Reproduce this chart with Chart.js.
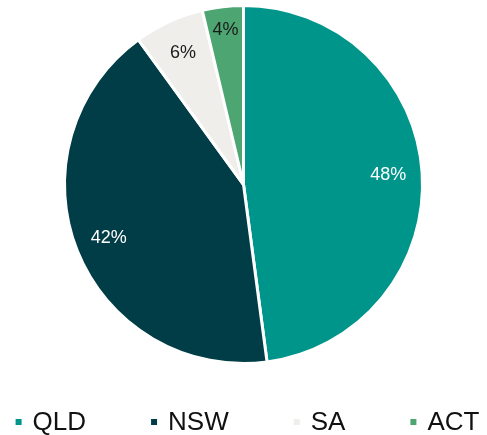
<!DOCTYPE html>
<html>
<head>
<meta charset="utf-8">
<script src="https://cdn.jsdelivr.net/npm/chart.js@4"></script>
<style>
  html, body { margin: 0; padding: 0; background: #fff; }
  #wrap { width: 487px; height: 435px; }
</style>
</head>
<body>
<div id="wrap"><canvas id="pie"></canvas></div>
<script>
const regions = ["QLD", "NSW", "SA", "ACT"];
const shares = [47.9, 42.1, 6.3, 3.7];
const colours = ["#00958A", "#003D46", "#EFEEEA", "#4DA672"];
const labelColours = ["#ffffff", "#ffffff", "#1a1a1a", "#1a1a1a"];

const FONT = "'Liberation Sans', Arial, sans-serif";

// draws the % inside each slice
const sliceLabels = {
  id: "sliceLabels",
  afterDatasetsDraw(chart) {
    const ctx = chart.ctx;
    const meta = chart.getDatasetMeta(0);
    ctx.save();
    ctx.font = "18px " + FONT;
    ctx.textAlign = "center";
    ctx.textBaseline = "middle";
    meta.data.forEach((arc, i) => {
      const p = arc.getProps(["x", "y", "startAngle", "endAngle", "outerRadius"], true);
      const mid = (p.startAngle + p.endAngle) / 2;
      const f = shares[i] < 5 ? 0.87 : 0.81;
      const r = p.outerRadius * f;
      ctx.fillStyle = labelColours[i];
      ctx.fillText(Math.round(shares[i]) + "%", p.x + Math.cos(mid) * r, p.y + Math.sin(mid) * r);
    });
    ctx.restore();
  }
};

// one-row legend under the pie, small square markers
const bottomLegend = {
  id: "bottomLegend",
  afterDraw(chart) {
    const ctx = chart.ctx;
    const box = 6, gap = 63, size = 26;
    ctx.save();
    ctx.font = size + "px " + FONT;
    ctx.textBaseline = "middle";
    const widths = regions.map(r => box + size / 2 + ctx.measureText(r).width);
    const total = widths.reduce((a, b) => a + b, 0) + gap * (regions.length - 1);
    let x = (chart.width - total) / 2 + 5;
    const y = chart.chartArea.bottom + 57;
    regions.forEach((r, i) => {
      ctx.fillStyle = colours[i];
      ctx.fillRect(x, y - box / 2, box, box);
      ctx.fillStyle = "#111111";
      ctx.fillText(r, x + box + size / 2 - 2, y + 1);
      x += widths[i] + gap;
    });
    ctx.restore();
  }
};

new Chart(document.getElementById("pie"), {
  type: "pie",
  data: {
    labels: regions,
    datasets: [{
      data: shares,
      backgroundColor: colours,
      borderColor: "#ffffff",
      borderWidth: 3
    }]
  },
  options: {
    responsive: true,
    maintainAspectRatio: false,
    animation: false,
    layout: { padding: { top: 4, bottom: 70 } },
    plugins: {
      tooltip: { enabled: false },
      legend: { display: false }
    }
  },
  plugins: [sliceLabels, bottomLegend]
});
</script>
</body>
</html>
